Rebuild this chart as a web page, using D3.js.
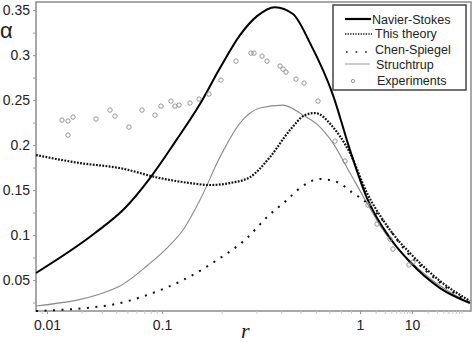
<!DOCTYPE html>
<html>
<head>
<meta charset="utf-8">
<script src="https://cdn.jsdelivr.net/npm/d3@7/dist/d3.min.js"></script>
<style>
  body { margin: 0; background: #fff; }
  svg { display: block; font-family: Arial, "Liberation Sans", sans-serif; }
</style>
</head>
<body>
<script>
// values: r (log axis) and alpha
var nsR = [0.00802, 0.02615, 0.04768, 0.07864, 0.1163, 0.1555, 0.1963, 0.2477, 0.3019, 0.3721, 0.4587, 0.5594, 0.7305, 0.8901, 1.363, 3.775, 9.15, 34.6, 130.4]
var nsA = [0.0578, 0.1022, 0.13, 0.1633, 0.2033, 0.2456, 0.2856, 0.3222, 0.3433, 0.3533, 0.3456, 0.3133, 0.2556, 0.1944, 0.1411, 0.0967, 0.07, 0.0411, 0.0244]

var ttR = [0.00802, 0.01936, 0.0431, 0.0961, 0.1385, 0.1748, 0.2206, 0.2783, 0.3511, 0.4431, 0.5275, 0.5926, 0.7305, 0.8901, 1.363, 2.77, 5.38, 9.15, 34.6, 130.4]
var ttA = [0.1889, 0.18, 0.1744, 0.1633, 0.1578, 0.1556, 0.1578, 0.1644, 0.1867, 0.2167, 0.2333, 0.2356, 0.22, 0.1911, 0.1467, 0.1167, 0.0944, 0.08, 0.0489, 0.0267]

var csR = [0.00802, 0.0353, 0.0741, 0.1277, 0.1896, 0.2687, 0.3391, 0.4278, 0.4977, 0.6281, 0.765, 0.9218, 1.363, 2.424, 3.775, 7.33, 17.8, 53.8, 130.4]
var csA = [0.0156, 0.0222, 0.0333, 0.05, 0.0722, 0.0967, 0.12, 0.1389, 0.1522, 0.1622, 0.1589, 0.1467, 0.1356, 0.12, 0.1056, 0.0833, 0.0611, 0.0389, 0.0244]

var stR = [0.00802, 0.04143, 0.0755, 0.1072, 0.1277, 0.1555, 0.1963, 0.2477, 0.3125, 0.4084, 0.5156, 0.6136, 0.7305, 0.8901, 1.363, 2.77, 5.88, 14.25, 43.1, 130.4]
var stA = [0.0211, 0.0422, 0.0667, 0.0867, 0.1056, 0.1389, 0.1867, 0.2244, 0.2411, 0.2444, 0.2333, 0.2222, 0.2022, 0.1689, 0.1356, 0.1056, 0.0822, 0.0611, 0.04, 0.0244]

var expR = [0.0135, 0.01523, 0.01683, 0.01523, 0.02668, 0.0353, 0.03903, 0.05164, 0.067, 0.0869, 0.098, 0.111, 0.1163, 0.1219, 0.1385, 0.1538, 0.1727, 0.1986, 0.2364, 0.2815, 0.2915, 0.32, 0.3391, 0.3945, 0.4084, 0.4229, 0.4751, 0.5216, 0.6136, 0.7477, 0.8399, 1.425, 2.123, 3.775, 4.31, 8.75, 10.45]
var expA = [0.2278, 0.2267, 0.2311, 0.2111, 0.2289, 0.2389, 0.2322, 0.22, 0.2389, 0.2333, 0.2433, 0.2489, 0.2433, 0.2444, 0.2467, 0.2511, 0.2567, 0.2722, 0.2933, 0.3022, 0.3022, 0.2989, 0.2933, 0.2878, 0.2844, 0.2811, 0.2733, 0.2689, 0.2489, 0.2044, 0.1822, 0.1333, 0.1122, 0.0956, 0.0844, 0.0667, 0.07]

var xTicks = [0.01, 0.1, 1, 10]
var xTickLabels = ['0.01', '0.1', '1', '10']
var yTicks = [0.05, 0.1, 0.15, 0.2, 0.25, 0.3, 0.35]
var yTickLabels = ['0.05', '0.1', '0.15', '0.2', '0.25', '0.3', '0.35']
var legendNames = ['Navier-Stokes', 'This theory', 'Chen-Spiegel', 'Struchtrup', 'Experiments']

var W = 474, H = 343
var svg = d3.select('body').append('svg').attr('width', W).attr('height', H)

// the r axis is not evenly spaced per decade in the original, so piecewise on log10(r)
var xs = d3.scaleLinear().domain([-2.096, -2, -1, 0, 1, 2.154]).range([36, 47, 162, 360, 412, 472])
var x = function (r) { return xs(Math.log10(r)) }
var y = d3.scaleLinear().domain([0.0156, 0.359]).range([311, 2])

function zip (rs, as) { return rs.map(function (r, i) { return [r, as[i]] }) }

var line = d3.line()
  .x(function (d) { return x(d[0]) })
  .y(function (d) { return y(d[1]) })
  .curve(d3.curveMonotoneX)

// frame
svg.append('rect')
  .attr('x', 36).attr('y', 2).attr('width', 435).attr('height', 309)
  .attr('fill', 'none').attr('stroke', '#8c8c8c').attr('stroke-width', 1.5)

// minor x ticks
var minor = []
for (var k = -3; k <= 2; k++) {
  for (var m = 2; m <= 9; m++) {
    var v = m * Math.pow(10, k)
    if (x(v) > 37 && x(v) < 470) minor.push(Math.log10(v))
  }
}
var gxm = svg.append('g').attr('transform', 'translate(0,311)')
  .call(d3.axisBottom(xs).tickValues(minor).tickSize(3).tickFormat(''))
gxm.select('.domain').remove()
gxm.selectAll('line').attr('stroke', '#c8c8c8')

var gx = svg.append('g').attr('transform', 'translate(0,311)')
  .call(d3.axisBottom(xs).tickValues(xTicks.map(Math.log10)).tickSize(3).tickPadding(6)
    .tickFormat(function (d, i) { return xTickLabels[i] }))
gx.select('.domain').remove()
gx.selectAll('line').attr('stroke', '#999')
gx.selectAll('text').attr('font-size', 14).attr('fill', '#222')
  .attr('font-family', 'Arial, "Liberation Sans", sans-serif')

var yMinor = d3.range(0.025, 0.351, 0.025)
var gym = svg.append('g').attr('transform', 'translate(36,0)')
  .call(d3.axisLeft(y).tickValues(yMinor).tickSize(3).tickFormat(''))
gym.select('.domain').remove()
gym.selectAll('line').attr('stroke', '#999')

var gy = svg.append('g').attr('transform', 'translate(36,0)')
  .call(d3.axisLeft(y).tickValues(yTicks).tickSize(3).tickPadding(3)
    .tickFormat(function (d, i) { return yTickLabels[i] }))
gy.select('.domain').remove()
gy.selectAll('line').attr('stroke', '#999')
gy.selectAll('text').attr('font-size', 14).attr('fill', '#222')
  .attr('font-family', 'Arial, "Liberation Sans", sans-serif')

svg.append('text').attr('x', 0).attr('y', 38)
  .attr('font-size', 22).attr('fill', '#222').text('α')
svg.append('text').attr('x', 241).attr('y', 338)
  .attr('font-family', '"Liberation Serif", "DejaVu Serif", serif')
  .attr('font-style', 'italic').attr('font-size', 22).attr('fill', '#222').text('r')

// curves
var plot = svg.append('g')

plot.append('path').datum(zip(stR, stA)).attr('d', line)
  .attr('fill', 'none').attr('stroke', '#8a8a8a').attr('stroke-width', 1.1)

plot.append('path').datum(zip(csR, csA)).attr('d', line)
  .attr('fill', 'none').attr('stroke', '#111').attr('stroke-width', 2)
  .attr('stroke-dasharray', '2,6.5')

plot.append('path').datum(zip(ttR, ttA)).attr('d', line)
  .attr('fill', 'none').attr('stroke', '#111').attr('stroke-width', 2.2)
  .attr('stroke-dasharray', '1.8,1.4')

plot.append('path').datum(zip(nsR, nsA)).attr('d', line)
  .attr('fill', 'none').attr('stroke', '#000').attr('stroke-width', 2)

plot.selectAll('circle.exp').data(zip(expR, expA)).enter().append('circle')
  .attr('class', 'exp')
  .attr('cx', function (d) { return x(d[0]) })
  .attr('cy', function (d) { return y(d[1]) })
  .attr('r', 2.2)
  .attr('fill', 'none').attr('stroke', '#8a8a8a').attr('stroke-width', 0.9)

// legend
var lg = svg.append('g')
lg.append('rect').attr('x', 333).attr('y', 5).attr('width', 133).attr('height', 85)
  .attr('fill', '#fff').attr('stroke', '#444').attr('stroke-width', 1.5)

var ly = [19, 33, 49, 64, 80]
var lx = [372, 375, 375, 376, 377]
lg.append('line').attr('x1', 345).attr('x2', 371).attr('y1', ly[0]).attr('y2', ly[0])
  .attr('stroke', '#000').attr('stroke-width', 2.2)
lg.append('line').attr('x1', 345).attr('x2', 372).attr('y1', ly[1] + 1).attr('y2', ly[1] + 1)
  .attr('stroke', '#111').attr('stroke-width', 1.6).attr('stroke-dasharray', '1.3,1.3')
lg.append('line').attr('x1', 346).attr('x2', 372).attr('y1', ly[2] + 3).attr('y2', ly[2] + 3)
  .attr('stroke', '#111').attr('stroke-width', 1.6).attr('stroke-dasharray', '1.6,8')
lg.append('line').attr('x1', 345).attr('x2', 370).attr('y1', ly[3]).attr('y2', ly[3])
  .attr('stroke', '#999').attr('stroke-width', 1)
lg.append('circle').attr('cx', 353).attr('cy', ly[4] + 1).attr('r', 1.6)
  .attr('fill', 'none').attr('stroke', '#8a8a8a').attr('stroke-width', 0.9)

lg.selectAll('text.lab').data(legendNames).enter().append('text')
  .attr('class', 'lab')
  .attr('x', function (d, i) { return lx[i] })
  .attr('y', function (d, i) { return ly[i] })
  .attr('dy', '0.36em')
  .attr('font-size', 12.5).attr('fill', '#222')
  .text(function (d) { return d })
</script>
</body>
</html>
